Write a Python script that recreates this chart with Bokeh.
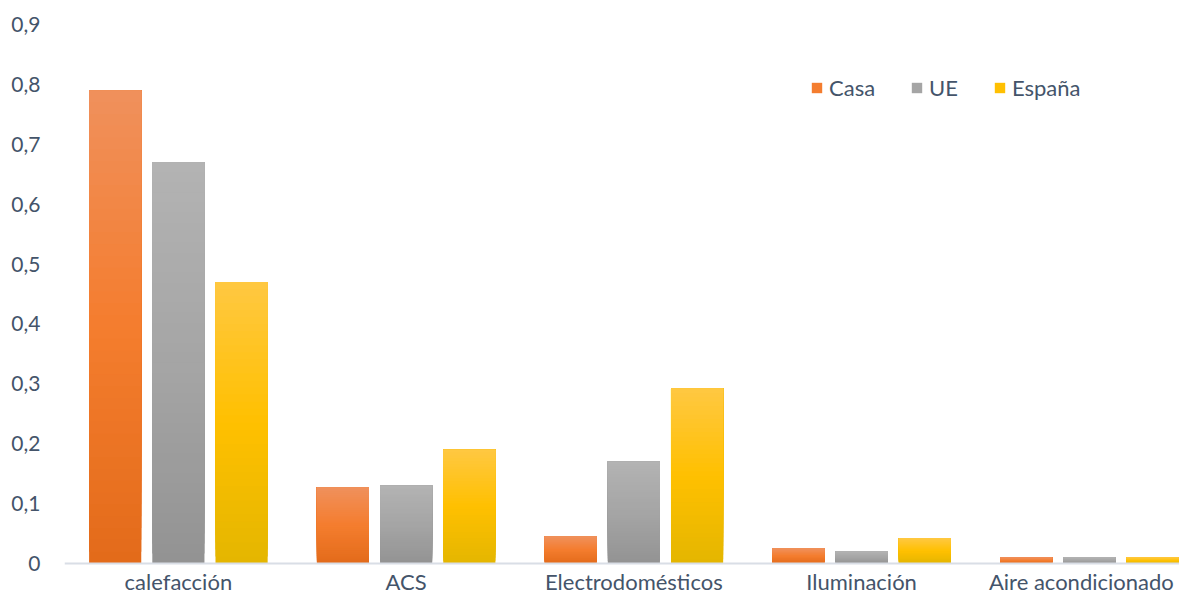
from bokeh.plotting import figure
from bokeh.models import (ColumnDataSource, FixedTicker, Legend, LegendItem, Range1d,
                          LabelSet, Span)
from bokeh.core.properties import value
from bokeh.embed import file_html
from bokeh.resources import INLINE

# ---- data ----
categories = ["calefacción", "ACS", "Electrodomésticos", "Iluminación", "Aire acondicionado"]
series_names = ["Casa", "UE", "España"]
casa = [0.79, 0.127, 0.045, 0.025, 0.010]
ue = [0.67, 0.130, 0.170, 0.020, 0.010]
espana = [0.47, 0.190, 0.292, 0.042, 0.010]
y_ticks = [0, 0.1, 0.2, 0.3, 0.4, 0.5, 0.6, 0.7, 0.8, 0.9]
y_tick_labels = ["0", "0,1", "0,2", "0,3", "0,4", "0,5", "0,6", "0,7", "0,8", "0,9"]

# gradient stops (top, middle, bottom) per series
grad = {
    "Casa": ["#F0905C", "#F47D2E", "#E36B1A"],
    "UE": ["#B3B3B3", "#A5A5A5", "#939393"],
    "España": ["#FFC842", "#FFC000", "#E4B600"],
}

FONT = "Lato"
TEXT_COLOR = "#44546A"


def hex2rgb(h):
    h = h.lstrip("#")
    return tuple(int(h[i:i + 2], 16) for i in (0, 2, 4))


def rgb2hex(c):
    return "#%02x%02x%02x" % tuple(int(round(v)) for v in c)


def grad_color(stops, t):
    # t = 0 bottom, 1 top
    top, mid, bot = [hex2rgb(s) for s in stops]
    if t < 0.5:
        f = t / 0.5
        a, b = bot, mid
    else:
        f = (t - 0.5) / 0.5
        a, b = mid, top
    return rgb2hex([a[i] + (b[i] - a[i]) * f for i in range(3)])


W, H = 1179, 597
LEFT, TOP = 64, 24
frame_w = W - LEFT
frame_h = H - TOP
px_per_cat = 227.75
px_per_unit = 539 / 0.9

p = figure(width=W, height=H, output_backend="svg", toolbar_location=None,
           x_range=Range1d(-0.5, -0.5 + frame_w / px_per_cat),
           y_range=Range1d(0.9 - frame_h / px_per_unit, 0.9),
           min_border_left=LEFT, min_border_right=0, min_border_top=TOP, min_border_bottom=0)
p.outline_line_color = None
p.xgrid.grid_line_color = None
p.ygrid.grid_line_color = None
p.background_fill_color = "white"
p.border_fill_color = "white"

bar_w = 0.229
step = 0.2775
offsets = [-step, 0, step]
N = 40
n_cat = len(categories)

legend_items = []
for s, (name, vals) in enumerate(zip(series_names, [casa, ue, espana])):
    xs, bottoms, tops, colors = [], [], [], []
    for k in range(N):
        t = (k + 0.5) / N
        c = grad_color(grad[name], t)
        for i, v in enumerate(vals):
            xs.append(i + offsets[s])
            bottoms.append(v * k / N)
            tops.append(v)
            colors.append(c)
    src = ColumnDataSource(dict(x=xs, bottom=bottoms, top=tops, color=colors))
    r = p.vbar(x="x", bottom="bottom", top="top", width=bar_w, source=src,
               fill_color="color", line_color=None)
    legend_items.append(LegendItem(label=name, renderers=[r], index=(N // 2) * n_cat))

# baseline (category axis line)
p.add_layout(Span(location=0, dimension="width", line_color="#D9DEE6", line_width=2))

legend = Legend(items=legend_items, orientation="horizontal",
                location=(810 - LEFT, frame_h - (75 - TOP) - 26),
                glyph_width=13, glyph_height=13, label_standoff=6, spacing=35,
                padding=0, margin=0, border_line_alpha=0, background_fill_alpha=0,
                label_text_font=FONT, label_text_font_size="22px",
                label_text_color=TEXT_COLOR, label_height=26)
p.add_layout(legend, "center")

# category labels
lab_src = ColumnDataSource(dict(x=list(range(n_cat)), y=[0] * n_cat, text=categories,
                                xoff=[0, 0, 0, 0, -8]))
p.add_layout(LabelSet(x="x", y="y", text="text", source=lab_src, x_offset="xoff", y_offset=-26,
                      text_align="center", text_baseline="alphabetic",
                      text_font=value(FONT), text_font_size=value("22px"),
                      text_color=value(TEXT_COLOR)))

p.xaxis.visible = False

p.yaxis.ticker = FixedTicker(ticks=y_ticks)
p.yaxis.major_label_overrides = {t: l for t, l in zip(y_ticks, y_tick_labels)}
p.yaxis.major_tick_line_color = None
p.yaxis.minor_tick_line_color = None
p.yaxis.major_tick_out = 0
p.yaxis.major_tick_in = 0
p.yaxis.axis_line_color = None
p.yaxis.major_label_standoff = 24
p.yaxis.major_label_text_font = FONT
p.yaxis.major_label_text_font_size = "21px"
p.yaxis.major_label_text_color = TEXT_COLOR

open("out.html", "w").write(file_html(p, INLINE))
